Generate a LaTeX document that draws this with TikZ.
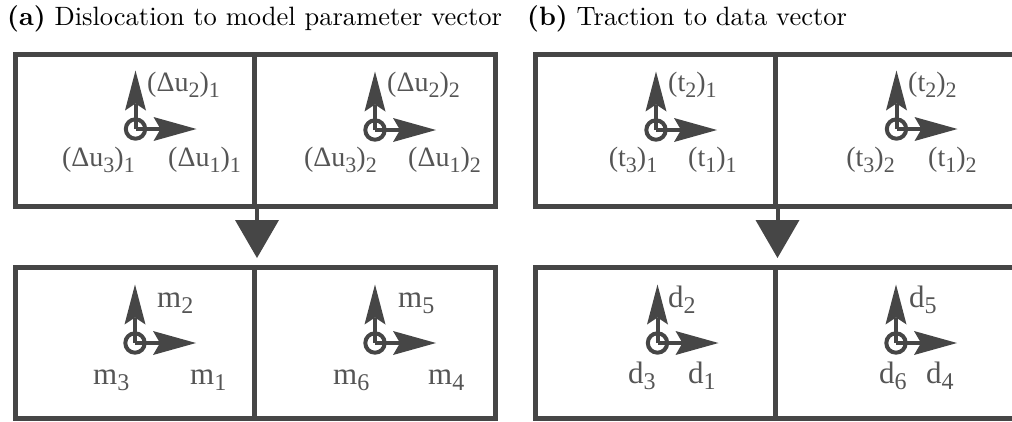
\documentclass[tikz,border=0pt]{standalone}
\usepackage{fontspec}
\newfontfamily\labfont{Liberation Serif}
\usetikzlibrary{arrows.meta}
\definecolor{ln}{RGB}{70,70,70}
\definecolor{tx}{RGB}{85,85,85}
\newcommand{\sbx}[1]{\raisebox{-6pt}{\fontsize{22}{22}\selectfont #1}}
\newcommand{\sbm}[1]{\raisebox{-6.5pt}{\fontsize{24}{24}\selectfont #1}}
\newcommand{\ttltext}[1]{\scalebox{2.65}{\fontsize{10}{12}\selectfont #1}}
\tikzset{
  cell/.style={draw=ln, line width=5pt, rectangle, inner sep=0pt},
  axline/.style={draw=ln, line width=4pt},
  vtip/.style={-{Stealth[length=40pt,width=21pt,inset=7pt,line width=0pt]}},
  htip/.style={-{Stealth[length=43pt,width=24pt,inset=7pt,line width=0pt]}},
  flow/.style={draw=ln, line width=4pt, -{Triangle[length=38pt,width=44pt,line width=0pt]}},
  lbl/.style={inner sep=0pt, text=tx, font=\labfont\fontsize{28}{28}\selectfont},
  lblm/.style={inner sep=0pt, text=tx, font=\labfont\fontsize{31}{31}\selectfont},
  ttl/.style={inner sep=0pt, anchor=base west},
}
\newcommand{\axes}[3]{%
  \coordinate (#1) at (#2,#3);
  \draw[axline] (#1) circle[radius=9.7pt];
  \draw[axline, vtip] (#1) -- ++(0,-58.5);
  \draw[axline, htip] (#1) -- ++(61,0);
}
\begin{document}
\begin{tikzpicture}[x=1pt,y=-1pt]
\useasboundingbox (0,0) rectangle (1012,421);
\clip (0,0) rectangle (1012,421);
% titles
\node[ttl] (ta) at (7,25) {\ttltext{\textbf{(a)} Dislocation to model parameter vector}};
\node[ttl] (tb) at (527,25) {\ttltext{\textbf{(b)} Traction to data vector}};
% cells
\node[cell, minimum width=239pt, minimum height=152pt] (a11) at (135,130.5) {};
\node[cell, minimum width=241pt, minimum height=152pt] (a12) at (375,130.5) {};
\node[cell, minimum width=239pt, minimum height=151pt] (a21) at (135,343) {};
\node[cell, minimum width=241pt, minimum height=151pt] (a22) at (375,343) {};
\node[cell, minimum width=239.5pt, minimum height=152pt] (b11) at (655.25,130.5) {};
\node[cell, minimum width=241pt, minimum height=152pt] (b12) at (895.5,130.5) {};
\node[cell, minimum width=239.5pt, minimum height=151pt] (b21) at (655.25,343) {};
\node[cell, minimum width=241pt, minimum height=151pt] (b22) at (895.5,343) {};
% flow arrows
\draw[flow] (a11.south east) -- ([yshift=7pt]a21.north east);
\draw[flow] (b11.south east) -- ([yshift=7pt]b21.north east);
% axes
\axes{oa1}{135.5}{129}
\axes{oa2}{375}{130}
\axes{ob1}{656}{130}
\axes{ob2}{896.5}{129}
\axes{pa1}{135}{343}
\axes{pa2}{375}{343}
\axes{pb1}{657.5}{343}
\axes{pb2}{896}{343}
% top labels
\node[lbl, anchor=base west] (la2) at (147,91) {(Δu\sbx{2})\sbx{1}};
\node[lbl, anchor=base east] (la3) at (135,166) {(Δu\sbx{3})\sbx{1}};
\node[lbl, anchor=base west] (la1) at (168,166) {(Δu\sbx{1})\sbx{1}};
\node[lbl, anchor=base west] (lc2) at (387,91) {(Δu\sbx{2})\sbx{2}};
\node[lbl, anchor=base east] (lc3) at (377,166) {(Δu\sbx{3})\sbx{2}};
\node[lbl, anchor=base west] (lc1) at (408,166) {(Δu\sbx{1})\sbx{2}};
\node[lbl, anchor=base west] (lb2) at (668,91) {(t\sbx{2})\sbx{1}};
\node[lbl, anchor=base east] (lb3) at (657.5,166) {(t\sbx{3})\sbx{1}};
\node[lbl, anchor=base west] (lb1) at (688,166) {(t\sbx{1})\sbx{1}};
\node[lbl, anchor=base west] (ld2) at (908,91) {(t\sbx{2})\sbx{2}};
\node[lbl, anchor=base east] (ld3) at (895,166) {(t\sbx{3})\sbx{2}};
\node[lbl, anchor=base west] (ld1) at (928,166) {(t\sbx{1})\sbx{2}};
% bottom labels
\node[lblm, anchor=base west] (m2) at (157,307) {m\sbm{2}};
\node[lblm, anchor=base west] (m3) at (93,384) {m\sbm{3}};
\node[lblm, anchor=base west] (m1) at (190,384) {m\sbm{1}};
\node[lblm, anchor=base west] (m5) at (398,307) {m\sbm{5}};
\node[lblm, anchor=base west] (m6) at (333,384) {m\sbm{6}};
\node[lblm, anchor=base west] (m4) at (428,384) {m\sbm{4}};
\node[lblm, anchor=base west] (d2) at (668,307) {d\sbm{2}};
\node[lblm, anchor=base west] (d3) at (628,383) {d\sbm{3}};
\node[lblm, anchor=base west] (d1) at (688,383) {d\sbm{1}};
\node[lblm, anchor=base west] (d5) at (909,307) {d\sbm{5}};
\node[lblm, anchor=base west] (d6) at (879,383) {d\sbm{6}};
\node[lblm, anchor=base west] (d4) at (926,383) {d\sbm{4}};
\end{tikzpicture}
\end{document}
